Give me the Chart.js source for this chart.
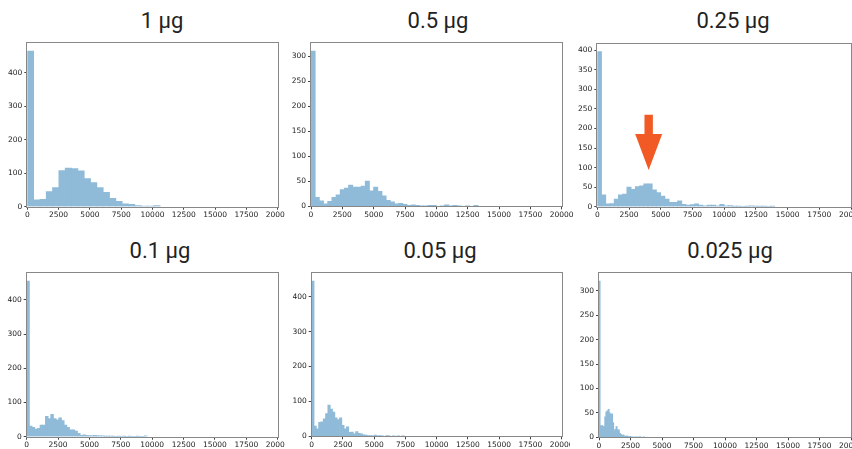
<!DOCTYPE html>
<html><head><meta charset="utf-8">
<script src="https://cdn.jsdelivr.net/npm/chart.js@4.4.1/dist/chart.umd.min.js"></script>
<style>
html,body{margin:0;padding:0;background:#fff;width:852px;height:449px;overflow:hidden;position:relative}
.box{position:absolute;overflow:hidden}
.title{position:absolute;font-family:Roboto,"Noto Sans",sans-serif;font-size:22px;line-height:22px;color:#222;white-space:nowrap;transform:translateX(-50%)}
</style></head><body>
<script>
// ---------- data ----------
const titles = ["1 µg", "0.5 µg", "0.25 µg", "0.1 µg", "0.05 µg", "0.025 µg"];
const binWidths = [505, 333, 333, 213, 185, 90];
const counts1 = [465, 20, 22, 45, 57, 108, 115, 114, 107, 84, 72, 57, 43, 25, 16, 8, 7, 3, 2, 2, 3];
const counts2 = [310, 18, 11, 5, 10, 18, 23, 33, 36, 42, 38, 38, 40, 50, 31, 38, 30, 21, 12, 9, 5, 6, 4, 2, 3, 2, 1, 1, 2, 2, 0, 1, 3, 1, 2, 1, 0, 1, 0, 2];
const counts3 = [396, 30, 7, 8, 19, 30, 32, 50, 44, 51, 53, 58, 58, 43, 36, 27, 19, 11, 11, 15, 6, 4, 5, 7, 4, 2, 4, 4, 2, 6, 2, 3, 1, 1, 0, 1, 2, 1, 1, 1, 0, 1];
const counts4 = [455, 31, 27, 22, 24, 34, 34, 59, 53, 65, 53, 49, 55, 47, 34, 27, 20, 20, 16, 10, 4, 5, 4, 3, 3, 4, 3, 2, 2, 1, 1, 1, 1, 0, 1, 0, 1, 0, 1, 0, 0, 1, 0, 0, 2];
const counts5 = [445, 29, 21, 40, 41, 50, 65, 89, 78, 69, 53, 48, 53, 31, 21, 27, 11, 12, 7, 13, 8, 7, 4, 3, 2, 2, 1, 3, 1, 2, 1, 0, 2, 1, 0, 1, 0, 1, 0, 1];
const counts6 = [320, 24, 24, 23, 22, 42, 52, 54, 57, 50, 47, 48, 30, 13, 16, 22, 15, 15, 8, 6, 4, 5, 3, 2, 3, 2, 1, 2, 1, 1, 0, 1, 0, 1, 0, 1, 1, 0, 0, 1];
const xTickLabels = [0, 2500, 5000, 7500, 10000, 12500, 15000, 17500, 20000];
const yTickSteps = [100, 50, 50, 100, 100, 50];
const arrowMark = {panel: 2, x: 4050, tip: 94, headBase: 186, top: 235};

// ---------- layout / style ----------
const allCounts = [counts1, counts2, counts3, counts4, counts5, counts6];
const geom = [
  {cx:0,   cy:36,  cw:285, ch:192, L:27.3, R:277.7, T:43.3, B:206.7, tx:162, ty:10},
  {cx:285, cy:36,  cw:290, ch:192, L:311,  R:561.7, T:43.3, B:206.3, tx:438, ty:10},
  {cx:575, cy:36,  cw:277, ch:192, L:597.3,R:851,   T:44,   B:206.7, tx:733, ty:10},
  {cx:0,   cy:266, cw:285, ch:183, L:26.7, R:277.7, T:273.3,B:436.7, tx:160, ty:240},
  {cx:285, cy:266, cw:285, ch:183, L:311.7,R:561.7, T:273.3,B:436.3, tx:440, ty:240},
  {cx:570, cy:266, cw:282, ch:183, L:599,  R:851,   T:273.3,B:437.3, tx:730, ty:240}
];
const barColor = '#8fbbd9';
const tickFont = {family:'DejaVu Sans', size:7.5};

const framePlugin = {
  id:'frame',
  afterDatasetsDraw(chart){
    const {ctx, chartArea:a} = chart;
    ctx.save();
    ctx.strokeStyle = '#888';
    ctx.lineWidth = 1;
    ctx.strokeRect(Math.round(a.left)-0.5, Math.round(a.top)-0.5, Math.round(a.right)-Math.round(a.left)+1, Math.round(a.bottom)-Math.round(a.top)+1);
    ctx.restore();
  }
};
const arrowPlugin = {
  id:'arrow',
  afterDatasetsDraw(chart, args, opts){
    if (!opts.show) return;
    const {ctx, scales:{x, y}} = chart;
    const px = x.getPixelForValue(arrowMark.x);
    const yTop = y.getPixelForValue(arrowMark.top);
    const yBase = y.getPixelForValue(arrowMark.headBase);
    const yTip = y.getPixelForValue(arrowMark.tip);
    const sw = 4.2, hw = 13.5;
    ctx.save();
    ctx.fillStyle = '#f15a24';
    ctx.beginPath();
    ctx.moveTo(px - sw, yTop);
    ctx.lineTo(px + sw, yTop);
    ctx.lineTo(px + sw, yBase);
    ctx.lineTo(px + hw, yBase);
    ctx.lineTo(px, yTip);
    ctx.lineTo(px - hw, yBase);
    ctx.lineTo(px - sw, yBase);
    ctx.closePath();
    ctx.fill();
    ctx.restore();
  }
};

geom.forEach((g, i) => {
  const t = document.createElement('div');
  t.className = 'title';
  t.style.left = g.tx + 'px';
  t.style.top = g.ty + 'px';
  t.textContent = titles[i];
  document.body.appendChild(t);

  const box = document.createElement('div');
  box.className = 'box';
  Object.assign(box.style, {left:g.cx+'px', top:g.cy+'px', width:g.cw+'px', height:g.ch+'px'});
  const cv = document.createElement('canvas');
  cv.width = g.cw; cv.height = g.ch;
  cv.style.width = g.cw + 'px'; cv.style.height = g.ch + 'px';
  box.appendChild(cv);
  document.body.appendChild(box);

  const counts = allCounts[i];
  const bw = binWidths[i];
  const pts = counts.map((c, k) => ({x: (k + 0.5) * bw, y: c}));
  const ymax = Math.max(...counts) * 1.05;

  new Chart(cv, {
    type:'bar',
    data:{datasets:[{data:pts, backgroundColor:barColor, borderWidth:0, barPercentage:1, categoryPercentage:1, inflateAmount:0.4}]},
    options:{
      responsive:false, animation:false, devicePixelRatio:1,
      layout:{padding:{left:0, top:g.T-g.cy, right:g.cx+g.cw-g.R, bottom:0}},
      plugins:{legend:{display:false}, tooltip:{enabled:false}, arrow:{show: i === arrowMark.panel}},
      scales:{
        x:{type:'linear', min:0, max:20000, offset:false,
          grid:{display:true, offset:false, drawOnChartArea:false, drawTicks:true, tickLength:3, color:'#444'},
          border:{display:false},
          afterBuildTicks: s => { s.ticks = xTickLabels.map(v => ({value:v})); },
          ticks:{autoSkip:false, maxRotation:0, minRotation:0, padding:1, color:'#222', font:tickFont, callback: v => String(v)},
          afterFit: s => { s.height = g.cy + g.ch - g.B; s.paddingLeft = 0; s.paddingRight = 0; }
        },
        y:{type:'linear', min:0, max:ymax,
          grid:{display:true, drawOnChartArea:false, drawTicks:true, tickLength:3, color:'#444'},
          border:{display:false},
          ticks:{stepSize:yTickSteps[i], includeBounds:false, padding:2, color:'#222', font:tickFont},
          afterFit: s => { s.width = g.L - g.cx; s.paddingTop = 0; s.paddingBottom = 0; }
        }
      }
    },
    plugins:[framePlugin, arrowPlugin]
  });
});
</script>
</body></html>
